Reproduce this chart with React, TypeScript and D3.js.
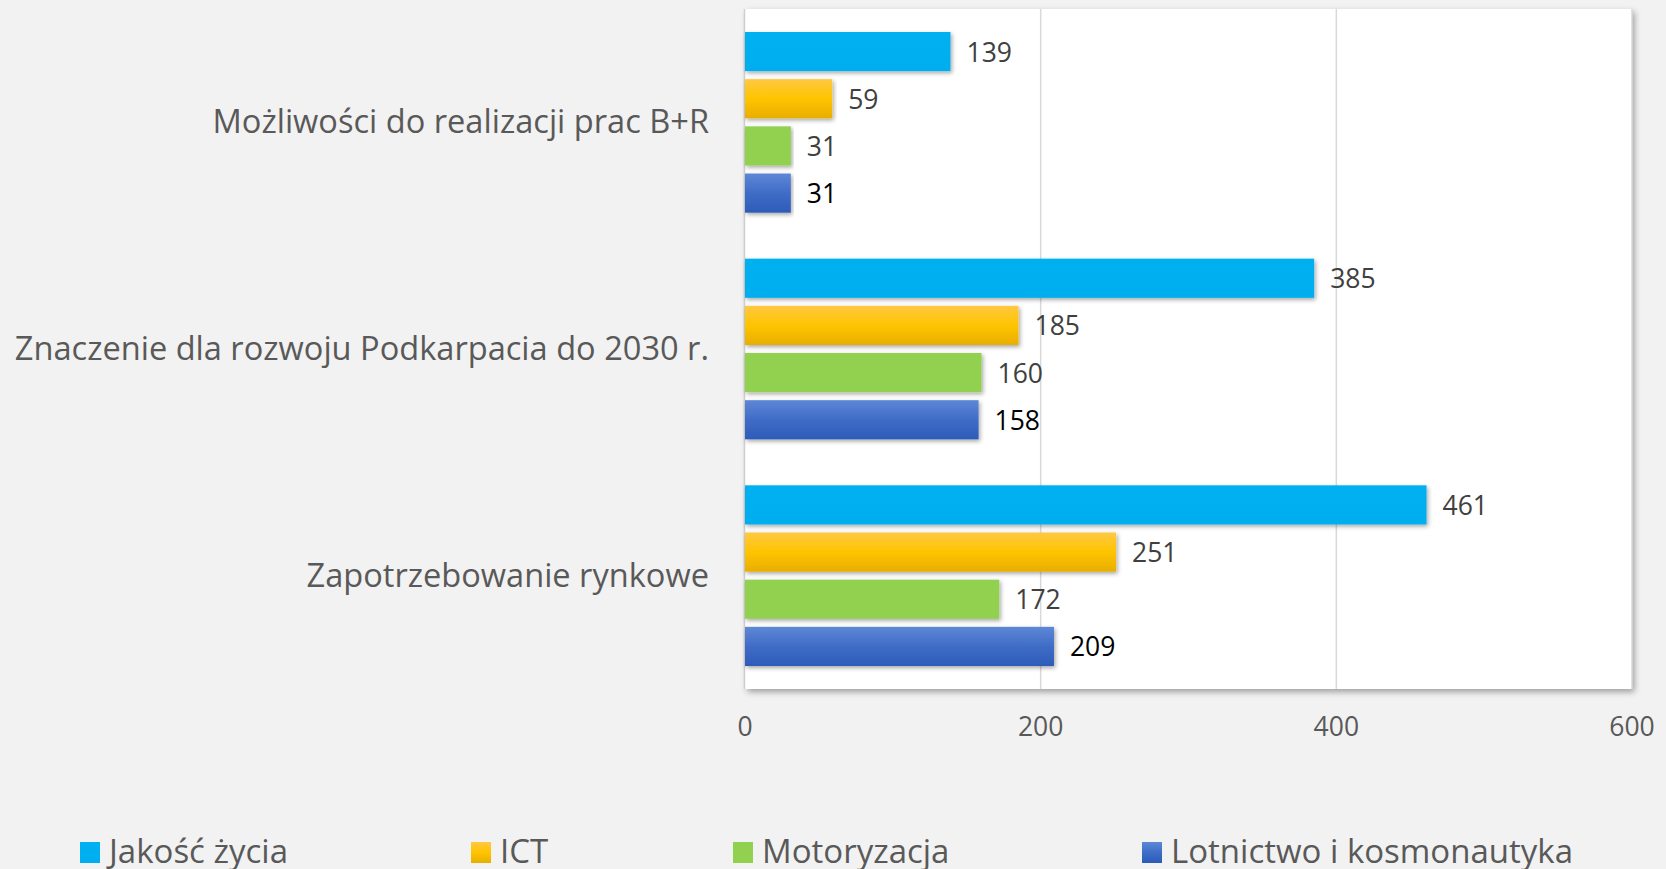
import React from "react";
import * as d3 from "d3";

const categories = [
  "Możliwości do realizacji prac B+R",
  "Znaczenie dla rozwoju Podkarpacia do 2030 r.",
  "Zapotrzebowanie rynkowe",
];
const seriesNames = ["Jakość życia", "ICT", "Motoryzacja", "Lotnictwo i kosmonautyka"];
const jakoscZycia = [139, 385, 461];
const ict = [59, 185, 251];
const motoryzacja = [31, 160, 172];
const lotnictwo = [31, 158, 209];
const xTicks = [0, 200, 400, 600];

const seriesValues = [jakoscZycia, ict, motoryzacja, lotnictwo];
const fills = ["url(#gBlue)", "url(#gGold)", "url(#gGreen)", "url(#gNavy)"];
const labelColors = ["#404040", "#404040", "#404040", "#000000"];
const legendX = [80, 471, 733, 1142];

const W = 1666;
const H = 869;
const plot = { left: 745, right: 1632, top: 9, bottom: 689 };
const FONT = "'Open Sans', 'Noto Sans', sans-serif";

export default function App() {
  const x = d3.scaleLinear().domain([0, 600]).range([plot.left, plot.right]);
  const y0 = d3.scaleBand<string>().domain(categories).range([plot.top, plot.bottom]).padding(0);
  const bw = y0.bandwidth();
  const y1 = d3
    .scaleBand<string>()
    .domain(seriesNames)
    .range([23, bw - 23])
    .paddingInner(0.17)
    .paddingOuter(0);

  return (
    <svg
      width={W}
      height={H}
      style={{ position: "fixed", left: 0, top: 0, background: "#F2F2F2" }}
      fontFamily={FONT}
    >
      <defs>
        <linearGradient id="gBlue" x1="0" y1="0" x2="0" y2="1">
          <stop offset="0" stopColor="#00B0F0" />
          <stop offset="1" stopColor="#00AEEF" />
        </linearGradient>
        <linearGradient id="gGold" x1="0" y1="0" x2="0" y2="1">
          <stop offset="0" stopColor="#FFC842" />
          <stop offset="0.5" stopColor="#FFC400" />
          <stop offset="1" stopColor="#E8AE00" />
        </linearGradient>
        <linearGradient id="gGreen" x1="0" y1="0" x2="0" y2="1">
          <stop offset="0" stopColor="#92D050" />
          <stop offset="1" stopColor="#92D050" />
        </linearGradient>
        <linearGradient id="gNavy" x1="0" y1="0" x2="0" y2="1">
          <stop offset="0" stopColor="#5E87D6" />
          <stop offset="0.5" stopColor="#3F6CC7" />
          <stop offset="1" stopColor="#2C5CB8" />
        </linearGradient>
        <filter id="plotShadow" x="-5%" y="-5%" width="110%" height="110%">
          <feDropShadow dx="2.5" dy="3" stdDeviation="3" floodColor="#000" floodOpacity="0.35" />
        </filter>
        <filter id="barShadow" x="-5%" y="-20%" width="110%" height="150%">
          <feDropShadow dx="1.5" dy="2" stdDeviation="2" floodColor="#000" floodOpacity="0.35" />
        </filter>
      </defs>
      <rect x={0} y={0} width={W} height={H} fill="#F2F2F2" />

      {/* plot area */}
      <rect
        x={plot.left}
        y={plot.top}
        width={plot.right - plot.left}
        height={plot.bottom - plot.top}
        fill="#FFFFFF"
        filter="url(#plotShadow)"
      />
      {xTicks.slice(1).map((t) => (
        <line
          key={"g" + t}
          x1={x(t)}
          x2={x(t)}
          y1={plot.top}
          y2={plot.bottom}
          stroke="#D9D9D9"
          strokeWidth={1.5}
        />
      ))}
      <line
        x1={plot.left - 0.5}
        x2={plot.left - 0.5}
        y1={plot.top}
        y2={plot.bottom}
        stroke="#CFCFCF"
        strokeWidth={1.5}
      />

      {/* bars */}
      {categories.map((c, ci) => (
        <g key={c} transform={`translate(0,${y0(c)})`}>
          {seriesNames.map((s, si) => {
            const v = seriesValues[si][ci];
            const yy = y1(s)!;
            return (
              <g key={s}>
                <rect
                  x={x(0)}
                  y={yy}
                  width={x(v) - x(0)}
                  height={y1.bandwidth()}
                  fill={fills[si]}
                  filter="url(#barShadow)"
                />
                <text
                  x={x(v) + 16}
                  y={yy + y1.bandwidth() / 2 + 10}
                  fontSize={26.5}
                  fill={labelColors[si]}
                >
                  {v}
                </text>
              </g>
            );
          })}
        </g>
      ))}

      {/* category labels */}
      {categories.map((c) => (
        <text
          key={"c" + c}
          x={709}
          y={y0(c)! + bw / 2 + 11}
          textAnchor="end"
          fontSize={32.6}
          fill="#595959"
        >
          {c}
        </text>
      ))}

      {/* x tick labels */}
      {xTicks.map((t) => (
        <text key={"t" + t} x={x(t)} y={736} textAnchor="middle" fontSize={26.5} fill="#595959">
          {t}
        </text>
      ))}

      {/* legend */}
      {seriesNames.map((s, i) => (
        <g key={"l" + s}>
          <rect x={legendX[i]} y={842} width={20} height={21} fill={fills[i]} />
          <text x={legendX[i] + 29} y={863} fontSize={33} fill="#595959">
            {s}
          </text>
        </g>
      ))}
    </svg>
  );
}
